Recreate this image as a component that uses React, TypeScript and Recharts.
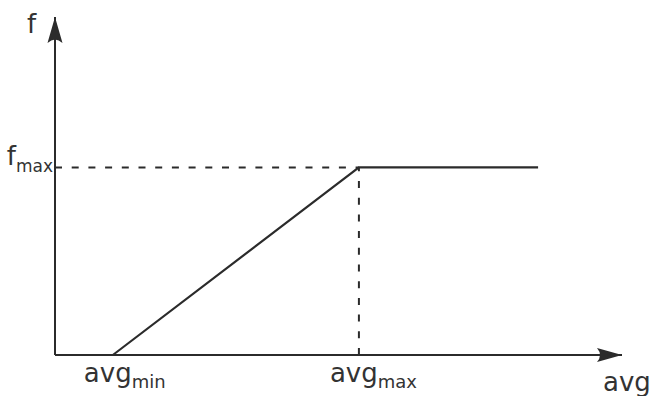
import React from 'react';
import {
  LineChart,
  Line,
  XAxis,
  YAxis,
  ReferenceLine,
  ReferenceDot,
} from 'recharts';

// Curve of f against avg: zero until avg_min, linear rise up to f_max at avg_max, then flat
const curvePoints = [
  { avg: 10.2, f: 0 },
  { avg: 53.6, f: 55.5 },
  { avg: 85.2, f: 55.5 },
];

const avgMin = 10.2;
const avgMax = 53.6;
const fMax = 55.5;

const xTicks = [avgMin, avgMax];
const xTickLabels: Record<string, [string, string]> = {
  [String(avgMin)]: ['avg', 'min'],
  [String(avgMax)]: ['avg', 'max'],
};
const yTicks = [fMax];
const yTickLabel: [string, string] = ['f', 'max'];

const FONT = '"DejaVu Sans", Verdana, sans-serif';
const INK = '#2b2b2b';
const TEXT = '#333';

const XTick = (props: any) => {
  const { x, y, payload } = props;
  const [main, sub] = xTickLabels[String(payload.value)] || ['', ''];
  return (
    <text x={x - 29} y={y + 27} textAnchor="start" fill={TEXT} fontFamily={FONT} fontSize={26}>
      {main}
      <tspan fontSize={18} dy={6}>{sub}</tspan>
    </text>
  );
};

const YTick = (props: any) => {
  const { x, y } = props;
  return (
    <text x={x - 2} y={y - 2} textAnchor="end" fill={TEXT} fontFamily={FONT} fontSize={26}>
      {yTickLabel[0]}
      <tspan fontSize={17} dy={7}>{yTickLabel[1]}</tspan>
    </text>
  );
};

// arrow heads at the ends of the axes, with the axis names beside them
const XArrow = (props: any) => {
  const { cx, cy } = props;
  return (
    <g>
      <path
        d={`M${cx},${cy} L${cx - 25},${cy - 7} Q${cx - 19},${cy} ${cx - 25},${cy + 7} Z`}
        fill={INK}
      />
      <text x={cx - 19} y={cy + 36} fill={TEXT} fontFamily={FONT} fontSize={26}>avg</text>
    </g>
  );
};

const YArrow = (props: any) => {
  const { cx, cy } = props;
  return (
    <g>
      <path
        d={`M${cx},${cy} L${cx - 7.5},${cy + 26} Q${cx},${cy + 19} ${cx + 7.5},${cy + 26} Z`}
        fill={INK}
      />
      <text x={cx - 28} y={cy + 16} fill={TEXT} fontFamily={FONT} fontSize={26}>f</text>
    </g>
  );
};

export default function App() {
  return (
    <div style={{ position: 'absolute', left: 0, top: 0, width: 655, height: 396, background: '#fff' }}>
      <LineChart
        width={655}
        height={396}
        data={curvePoints}
        margin={{ top: 17, right: 33, left: 0, bottom: 0 }}
      >
        <XAxis
          type="number"
          dataKey="avg"
          domain={[0, 100]}
          ticks={xTicks}
          height={41}
          tickLine={false}
          tickSize={0}
          tickMargin={0}
          axisLine={{ stroke: INK, strokeWidth: 2 }}
          tick={<XTick />}
          interval={0}
        />
        <YAxis
          type="number"
          dataKey="f"
          domain={[0, 100]}
          ticks={yTicks}
          width={55}
          tickLine={false}
          tickSize={0}
          tickMargin={0}
          axisLine={{ stroke: INK, strokeWidth: 2 }}
          tick={<YTick />}
          interval={0}
        />
        <ReferenceLine
          segment={[{ x: 0, y: fMax }, { x: avgMax, y: fMax }]}
          stroke={INK}
          strokeWidth={2}
          strokeDasharray="7 9.7"
        />
        <ReferenceLine
          segment={[{ x: avgMax, y: 0 }, { x: avgMax, y: fMax }]}
          stroke={INK}
          strokeWidth={2}
          strokeDasharray="7 9.7"
        />
        <Line
          type="linear"
          dataKey="f"
          stroke={INK}
          strokeWidth={2.2}
          dot={false}
          activeDot={false}
          isAnimationActive={false}
        />
        <ReferenceDot x={100} y={0} r={0} shape={<XArrow />} />
        <ReferenceDot x={0} y={100} r={0} shape={<YArrow />} />
      </LineChart>
    </div>
  );
}
